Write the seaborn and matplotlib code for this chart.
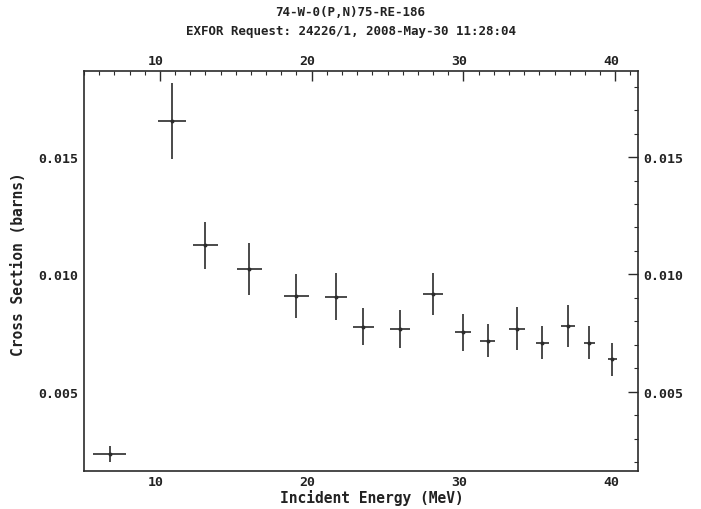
import matplotlib
matplotlib.use("Agg")
import matplotlib.pyplot as plt
from matplotlib.ticker import MultipleLocator, FormatStrFormatter
from matplotlib.transforms import ScaledTranslation
import seaborn as sns
import pandas as pd

# 74-W-0(P,N)75-RE-186 cross section data
energy = [6.7, 10.8, 13.0, 15.9, 19.0, 21.6, 23.4, 25.8, 28.0, 30.0, 31.6, 33.5, 35.2, 36.9, 38.3, 39.8]
energy_err = [1.1, 0.95, 0.85, 0.85, 0.8, 0.72, 0.7, 0.67, 0.65, 0.53, 0.49, 0.53, 0.45, 0.45, 0.35, 0.3]
sigma = [0.00235, 0.01653, 0.01124, 0.01023, 0.00907, 0.00905, 0.00777, 0.00767,
         0.00916, 0.00753, 0.00718, 0.00769, 0.00709, 0.00779, 0.00709, 0.00639]
sigma_err = [0.00033, 0.00162, 0.0010, 0.0011, 0.00095, 0.0010, 0.0008, 0.0008,
             0.0009, 0.0008, 0.0007, 0.0009, 0.0007, 0.0009, 0.0007, 0.0007]

title_lines = ["74-W-0(P,N)75-RE-186", "EXFOR Request: 24226/1, 2008-May-30 11:28:04"]
xlabel = "Incident Energy (MeV)"
ylabel = "Cross Section (barns)"

df = pd.DataFrame({"E": energy, "dE": energy_err, "S": sigma, "dS": sigma_err})

sns.set_style("white")
plt.rcParams["font.family"] = ["DejaVu Sans Mono"]
plt.rcParams["font.weight"] = "bold"

ink = "#2b2b2b"
text_ink = "#222222"
fig = plt.figure(figsize=(7.01, 5.10), dpi=100)
ax = fig.add_axes([84 / 701, 1 - 472 / 510, (638 - 84) / 701, (472 - 71.7) / 510])

ax.errorbar(df["E"], df["S"], xerr=df["dE"], yerr=df["dS"], fmt="none",
            ecolor=ink, elinewidth=1.2, capsize=0)
sns.scatterplot(data=df, x="E", y="S", ax=ax, color=ink, s=8, linewidth=0, legend=False)

ax.set_xlim(5.0, 41.5)
ax.set_ylim(0.00162, 0.01868)

ax.xaxis.set_major_locator(MultipleLocator(10))
ax.xaxis.set_minor_locator(MultipleLocator(1))
ax.yaxis.set_major_locator(MultipleLocator(0.005))
ax.yaxis.set_minor_locator(MultipleLocator(0.001))
ax.yaxis.set_major_formatter(FormatStrFormatter("%.3f"))

ax.tick_params(which="both", direction="in", top=True, right=True,
               labeltop=True, labelright=True, colors=ink, labelcolor=text_ink,
               labelsize=9.5)
ax.tick_params(axis="x", pad=3)
ax.tick_params(axis="y", pad=4)
ax.tick_params(which="major", length=7, width=1.0)
ax.tick_params(which="minor", length=3, width=0.8)

for spine in ax.spines.values():
    spine.set_color(ink)
    spine.set_linewidth(1.2)

ax.set_xlabel(xlabel, fontsize=10.5, fontweight="bold", color=text_ink)
ax.xaxis.set_label_coords(0.52, -0.045)
ax.set_ylabel(ylabel, fontsize=10.5, fontweight="bold", color=text_ink)
ax.yaxis.set_label_coords(-0.104, 0.52)

fig.canvas.draw()
# energy labels (bottom and top) sit a few pixels left of their ticks
shift = ScaledTranslation(-4 / 100, 0, fig.dpi_scale_trans)
for tick in ax.xaxis.get_major_ticks():
    tick.label1.set_transform(tick.label1.get_transform() + shift)
    tick.label2.set_transform(tick.label2.get_transform() + shift)

fig.text(0.5, 1 - 13 / 510, title_lines[0], ha="center", va="center",
         fontsize=9, fontweight="bold", color=text_ink)
fig.text(0.5, 1 - 31 / 510, title_lines[1], ha="center", va="center",
         fontsize=9, fontweight="bold", color=text_ink)

fig.savefig("out.png", dpi=100, facecolor="white")
